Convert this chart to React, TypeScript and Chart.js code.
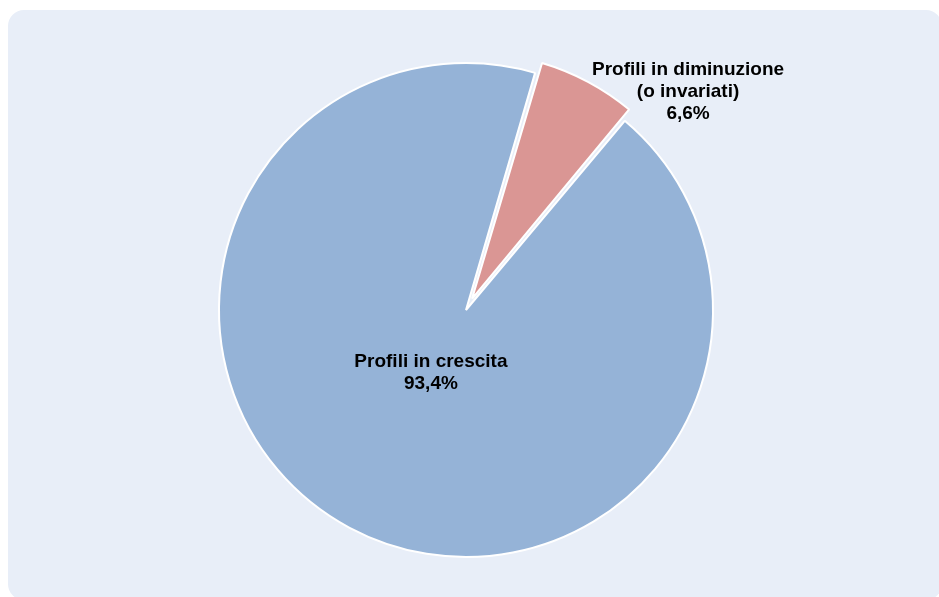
import React, { useEffect, useRef } from "react";
import { Chart, registerables } from "chart.js";

Chart.register(...registerables);

const categories = ["Profili in crescita", "Profili in diminuzione\n(o invariati)"];
const values = [93.4, 6.6];
const valueLabels = ["93,4%", "6,6%"];
const colors = ["#95B3D7", "#DA9694"];
const offsets = [0, 52];
// exploded slice is drawn slightly smaller than the rest of the pie
const radiusShrink = [0, 9];
// label anchor relative to pie centre, in units of radius
const labelAnchors = [
  [-0.142, 0.255],
  [0.899, -0.885],
];

const shrinkPlugin = {
  id: "shrinkExploded",
  beforeDatasetsDraw(chart: any) {
    const meta = chart.getDatasetMeta(0);
    const base = chart.options.radius;
    meta.data.forEach((arc: any, i: number) => {
      arc.outerRadius = base - radiusShrink[i];
    });
  },
};

const labelPlugin = {
  id: "sliceLabels",
  afterDatasetsDraw(chart: any) {
    const ctx = chart.ctx;
    const meta = chart.getDatasetMeta(0);
    const arc0 = meta.data[0];
    const cx = arc0.x;
    const cy = arc0.y;
    const r = arc0.outerRadius;
    ctx.save();
    ctx.fillStyle = "#000";
    ctx.font = "bold 19px 'Liberation Sans', Arial, sans-serif";
    ctx.textAlign = "center";
    ctx.textBaseline = "middle";
    const lh = 22;
    categories.forEach((c, i) => {
      const lines = [...c.split("\n"), valueLabels[i]];
      const x = cx + labelAnchors[i][0] * r;
      const y = cy + labelAnchors[i][1] * r;
      const y0 = y - ((lines.length - 1) * lh) / 2;
      lines.forEach((ln, j) => {
        ctx.fillText(ln, x, y0 + j * lh);
      });
    });
    ctx.restore();
  },
};

export default function App() {
  const ref = useRef<HTMLCanvasElement>(null);
  useEffect(() => {
    const chart = new Chart(ref.current!, {
      type: "pie",
      data: {
        labels: categories,
        datasets: [
          {
            data: values,
            backgroundColor: colors,
            borderColor: "#FFFFFF",
            borderWidth: 2,
            offset: offsets,
            hoverOffset: 0,
          },
        ],
      },
      options: {
        animation: false,
        responsive: false,
        rotation: 40,
        radius: 247,
        layout: { padding: { left: 0, right: 7, top: 23, bottom: 0 } },
        plugins: { legend: { display: false }, tooltip: { enabled: false } },
        events: [],
      },
      plugins: [shrinkPlugin, labelPlugin],
    });
    return () => chart.destroy();
  }, []);
  return (
    <div style={{ position: "fixed", left: 0, top: 0, width: 939, height: 597, overflow: "hidden", background: "#FFFFFF" }}>
      <div
        style={{
          position: "absolute",
          left: 8,
          top: 10,
          width: 934,
          height: 590,
          borderRadius: 16,
          background: "#E8EEF8",
        }}
      />
      <canvas ref={ref} width={939} height={597} style={{ position: "absolute", left: 0, top: 0, width: 939, height: 597 }} />
    </div>
  );
}
